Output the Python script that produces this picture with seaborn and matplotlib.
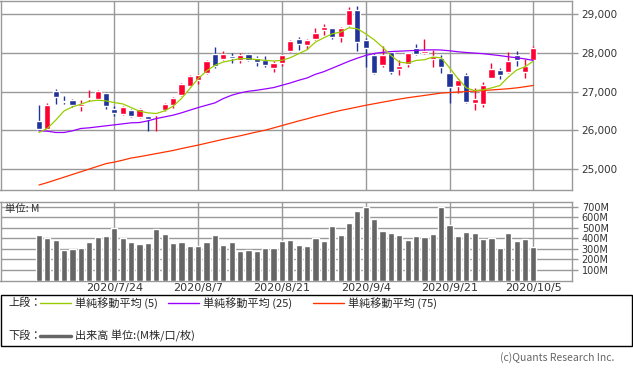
import numpy as np
import pandas as pd
import matplotlib
matplotlib.use('Agg')
import matplotlib.pyplot as plt
import seaborn as sns
from matplotlib.lines import Line2D
from matplotlib.patches import Rectangle

# --- data (daily candles, 2020/7/13 - 2020/10/5) ---
opens = [26235, 26026, 27017, 26757, 26783, 26635, 26800, 26800, 26974, 26557,
         26435, 26522, 26357, 26365, 26400, 26523, 26652, 26910, 27142, 27297,
         27486, 27968, 27839, 27916, 27830, 27968, 27873, 27830, 27615, 27744,
         28045, 28355, 28217, 28363, 28586, 28638, 28414, 28716, 29103, 28345,
         27940, 27681, 28026, 27578, 27707, 28138, 28009, 27836, 27879, 27483,
         27138, 27422, 26707, 26690, 27353, 27552, 27509, 27940, 27509, 27828]
highs = [26652, 26713, 27070, 26887, 26809, 26774, 27043, 27043, 27000, 26626,
         26626, 26548, 26591, 26383, 26426, 26712, 26867, 27219, 27426, 27452,
         27813, 28157, 28045, 28000, 28000, 28000, 27916, 27916, 27796, 27985,
         28329, 28415, 28355, 28639, 28741, 28650, 28672, 29190, 29216, 28400,
         28000, 28172, 28052, 27810, 28010, 28224, 28371, 28069, 27940, 27483,
         27345, 27483, 27103, 27241, 27741, 27603, 28026, 28052, 27853, 28172]
lows = [26026, 26000, 26678, 26696, 26609, 26496, 26757, 26783, 26565, 26374,
        26409, 26348, 26330, 25990, 25990, 26497, 26591, 26892, 27125, 27211,
        27469, 27615, 27813, 27753, 27744, 27787, 27667, 27641, 27512, 27667,
        28019, 28071, 28114, 28346, 28466, 28362, 28276, 28690, 28052, 27638,
        27448, 27638, 27448, 27422, 27640, 27940, 27983, 27638, 27483, 26707,
        26966, 26707, 26534, 26603, 27353, 27328, 27483, 27664, 27362, 27810]
closes = [26043, 26652, 26870, 26722, 26652, 26678, 26835, 27017, 26643, 26452,
          26600, 26374, 26548, 26287, 26426, 26677, 26832, 27194, 27400, 27426,
          27787, 27667, 27985, 27873, 27942, 27813, 27761, 27684, 27744, 27942,
          28303, 28226, 28329, 28518, 28672, 28414, 28638, 29103, 28284, 28138,
          27483, 27940, 27509, 27655, 28000, 27983, 28052, 27914, 27638, 27121,
          27293, 26733, 26802, 27164, 27578, 27440, 27785, 27810, 27672, 28138]

ma5 = [25946, 26050, 26265, 26505, 26609, 26677, 26755, 26780, 26763, 26720,
       26686, 26591, 26497, 26454, 26437, 26505, 26626, 26824, 27082, 27340,
       27538, 27684, 27770, 27813, 27856, 27856, 27830, 27813, 27796, 27813,
       27882, 27985, 28088, 28286, 28397, 28500, 28543, 28655, 28629, 28500,
       28345, 28155, 27940, 27767, 27741, 27810, 27828, 27897, 27879, 27620,
       27340, 27100, 27030, 27050, 27100, 27160, 27380, 27560, 27650, 27790]
ma25 = [25989, 25980, 25946, 25946, 25989, 26050, 26067, 26093, 26118, 26144,
        26170, 26196, 26204, 26247, 26307, 26350, 26394, 26454, 26523, 26591,
        26652, 26712, 26824, 26910, 26970, 27013, 27039, 27073, 27108, 27168,
        27228, 27297, 27357, 27452, 27520, 27610, 27700, 27790, 27870, 27940,
        27990, 28020, 28040, 28050, 28060, 28070, 28080, 28085, 28080, 28060,
        28035, 28015, 28000, 27985, 27960, 27935, 27905, 27880, 27850, 27810]
ma75 = [24587, 24650, 24720, 24790, 24860, 24930, 25000, 25070, 25140, 25180,
        25230, 25285, 25320, 25360, 25400, 25440, 25480, 25530, 25575, 25620,
        25670, 25720, 25770, 25815, 25860, 25910, 25960, 26006, 26065, 26125,
        26185, 26245, 26300, 26360, 26410, 26465, 26517, 26560, 26605, 26650,
        26690, 26730, 26770, 26810, 26845, 26875, 26905, 26935, 26966, 26980,
        26993, 27005, 27017, 27032, 27047, 27062, 27078, 27100, 27130, 27164]

# volume in millions
volume = [432, 400, 385, 290, 297, 309, 366, 413, 423, 495,
          400, 363, 347, 356, 489, 442, 356, 366, 328, 328,
          366, 432, 338, 366, 281, 290, 281, 306, 306, 375,
          385, 338, 328, 400, 375, 517, 432, 546, 659, 697,
          584, 470, 451, 432, 385, 423, 413, 442, 697, 527,
          423, 461, 451, 394, 404, 309, 451, 375, 394, 319]

date_tick_pos = [9, 19, 29, 39, 49, 59]
date_tick_labels = ['2020/7/24', '2020/8/7', '2020/8/21', '2020/9/4', '2020/9/21', '2020/10/5']
price_ticks = [25000, 26000, 27000, 28000, 29000]
price_tick_labels = ['25,000', '26,000', '27,000', '28,000', '29,000']
vol_ticks = [100, 200, 300, 400, 500, 600, 700]
vol_tick_labels = ['100M', '200M', '300M', '400M', '500M', '600M', '700M']

df = pd.DataFrame({'open': opens, 'high': highs, 'low': lows, 'close': closes,
                   'ma5': ma5, 'ma25': ma25, 'ma75': ma75, 'volume': volume})
df['idx'] = np.arange(len(df))

# --- style ---
sns.set_style('white')
plt.rcParams['font.family'] = ['Noto Sans CJK JP', 'DejaVu Sans']

RED = '#ff0033'
BLUE = '#203399'
GRID = '#999999'
TICKFONT = ['DejaVu Sans']

W, H = 633, 374
fig = plt.figure(figsize=(W / 100, H / 100), dpi=100)


def px_box(x0, y0, x1, y1):
    return [x0 / W, 1 - y1 / H, (x1 - x0) / W, (y1 - y0) / H]


ax = fig.add_axes(px_box(0.5, 0.5, 572, 190))
axv = fig.add_axes(px_box(0.5, 201.7, 572, 280.5))

xlim = (-4.59, 63.61)

# --- price panel: candles ---
up = df['close'] >= df['open']
body_low = np.minimum(df['open'], df['close'])
body_h = np.maximum(np.abs(df['close'] - df['open']), 18)
colors = np.where(up, RED, BLUE)
ax.vlines(df['idx'], df['low'], df['high'], colors=colors, lw=1.0, zorder=3)
ax.bar(df['idx'], body_h, bottom=body_low, width=0.74, color=colors, zorder=4)

# moving averages
sns.lineplot(data=df, x='idx', y='ma75', ax=ax, color='#ff3300', lw=0.9, zorder=5)
sns.lineplot(data=df, x='idx', y='ma25', ax=ax, color='#9900ff', lw=0.9, zorder=5)
sns.lineplot(data=df, x='idx', y='ma5', ax=ax, color='#99cc00', lw=0.9, zorder=6)

ax.set_xlim(*xlim)
ax.set_ylim(24458, 29361)
ax.set_xticks(date_tick_pos)
ax.set_xticklabels([])
ax.set_yticks(price_ticks)
ax.set_yticklabels(price_tick_labels, family=TICKFONT)
ax.yaxis.tick_right()
ax.set_xlabel('')
ax.set_ylabel('')
ax.grid(True, color=GRID, lw=1.0, zorder=0)
ax.set_axisbelow(True)
ax.tick_params(axis='x', length=0)
ax.tick_params(axis='y', length=4, width=1, color=GRID, pad=3, labelsize=7.5, labelcolor='#333333')
for s in ax.spines.values():
    s.set_color(GRID)
    s.set_linewidth(1.0)

# --- volume panel ---
sns.barplot(data=df, x='idx', y='volume', ax=axv, color='#666666', saturation=1,
            width=0.74, native_scale=True, zorder=3)
axv.set_xlim(*xlim)
axv.set_ylim(0, 745.5)
axv.set_xticks(date_tick_pos)
axv.set_xticklabels(date_tick_labels, family=TICKFONT)
axv.set_yticks(vol_ticks)
axv.set_yticklabels(vol_tick_labels, family=TICKFONT)
axv.yaxis.tick_right()
axv.set_xlabel('')
axv.set_ylabel('')
axv.grid(True, color=GRID, lw=1.0, zorder=0)
axv.set_axisbelow(True)
axv.tick_params(axis='x', length=0, pad=2, labelsize=8, labelcolor='#333333')
axv.tick_params(axis='y', length=4, width=1, color=GRID, pad=3, labelsize=7, labelcolor='#333333')
for s in axv.spines.values():
    s.set_color(GRID)
    s.set_linewidth(1.0)
axv.text(5 / 572, 0.905, '単位: M', transform=axv.transAxes, ha='left', va='center',
         fontsize=7.5, color='#333333', zorder=6)

# --- legend box ---
fig.add_artist(Rectangle((0.5 / W, 1 - 346 / H), 631.5 / W, 51 / H, transform=fig.transFigure,
                         fill=False, edgecolor='#000000', lw=1.0))
row1 = 1 - 303 / H
row2 = 1 - 336 / H
fig.text(8 / W, row1, '上段：', ha='left', va='center', fontsize=8)
fig.text(8 / W, row2, '下段：', ha='left', va='center', fontsize=8)
for x0, col, label in [(40, '#99cc00', '単純移動平均 (5)'),
                       (168, '#9900ff', '単純移動平均 (25)'),
                       (313, '#ff3300', '単純移動平均 (75)')]:
    fig.add_artist(Line2D([x0 / W, (x0 + 31) / W], [row1, row1], transform=fig.transFigure,
                          color=col, lw=1.0))
    fig.text((x0 + 35) / W, row1, label, ha='left', va='center', fontsize=8)
fig.add_artist(Line2D([40 / W, 71 / W], [row2, row2], transform=fig.transFigure,
                      color='#666666', lw=2.5))
fig.text(75 / W, row2, '出来高 単位:(M株/口/枚)', ha='left', va='center', fontsize=8)

fig.text(614 / W, 1 - 358 / H, '(c)Quants Research Inc.', ha='right', va='center',
         fontsize=7.5, color='#666666')

fig.savefig('out.png', dpi=100)
